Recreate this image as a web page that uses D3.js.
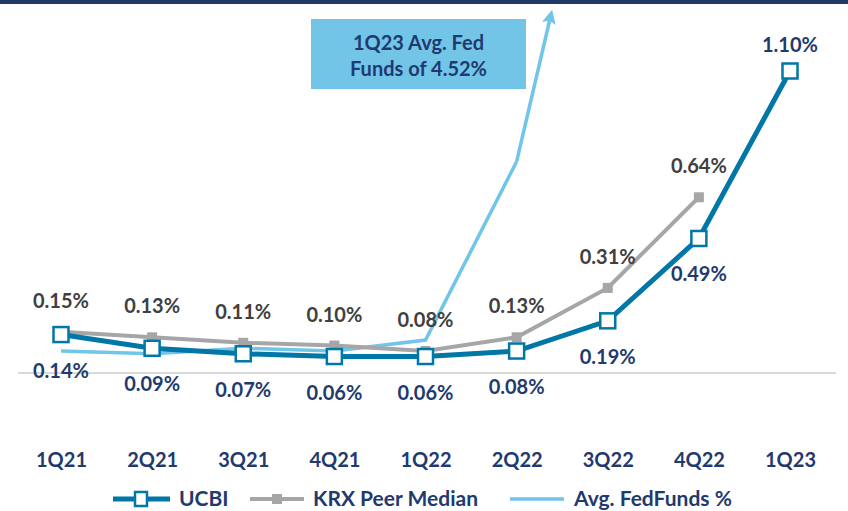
<!DOCTYPE html>
<html>
<head>
<meta charset="utf-8">
<script src="https://cdn.jsdelivr.net/npm/d3@7"></script>
<style>
  body { margin: 0; background: #fff; }
  text { font-family: Lato, "Open Sans", sans-serif; font-weight: 700; }
</style>
</head>
<body>
<svg id="chart" width="848" height="511"></svg>
<script>
// data
var quarters = ['1Q21','2Q21','3Q21','4Q21','1Q22','2Q22','3Q22','4Q22','1Q23'];
var ucbi = [0.14, 0.09, 0.07, 0.06, 0.06, 0.08, 0.19, 0.49, 1.10];
var krx = [0.15, 0.13, 0.11, 0.10, 0.08, 0.13, 0.31, 0.64];
var fed = [0.08, 0.07, 0.09, 0.08, 0.12, 0.77, 2.19];
var legendNames = ['UCBI', 'KRX Peer Median', 'Avg. FedFunds %'];
var calloutLines = ['1Q23 Avg. Fed', 'Funds of 4.52%'];

var navy = '#1F3A6E', blue = '#0077A6', gray = '#A6A6A8', light = '#71C5E8', darkText = '#404040';

var svg = d3.select('#chart');

var x = d3.scalePoint().domain(quarters).range([61, 790]);
var y = d3.scaleLinear().domain([0, 1.1]).range([373, 71]);

// top bar
svg.append('rect').attr('x', 0).attr('y', 0).attr('width', 848).attr('height', 4).attr('fill', '#1F3864');

// zero line
svg.append('line')
  .attr('x1', 18).attr('x2', 836)
  .attr('y1', y(0)).attr('y2', y(0))
  .attr('stroke', '#D9D9D9').attr('stroke-width', 2);

// x axis labels
var xAxis = d3.axisBottom(x).tickSize(0).tickPadding(0);
var gx = svg.append('g').attr('transform', 'translate(0,453)').call(xAxis);
gx.select('.domain').remove();
gx.selectAll('text').attr('fill', navy).style('font-size', '20px').attr('dy', '0.35em').attr('y', 7);

var line = d3.line().x(function(d, i){ return x(quarters[i]); }).y(function(d){ return y(d); });

// fed funds line, clipped at the top with an arrow
svg.append('defs').append('marker')
  .attr('id', 'arrow')
  .attr('viewBox', '0 0 10 10')
  .attr('refX', 4).attr('refY', 5)
  .attr('markerWidth', 5.5).attr('markerHeight', 4)
  .attr('orient', 'auto')
  .append('path').attr('d', 'M0,0 L10,5 L0,10 L2,5 Z').attr('fill', light);

var fedShown = fed.slice(0, 6);
svg.append('path')
  .datum(fedShown)
  .attr('d', line)
  .attr('fill', 'none').attr('stroke', light).attr('stroke-width', 3.5);

// arrow segment heading toward 3Q22 value, stops near the top
var x0 = x(quarters[5]), y0 = y(fed[5]), x1 = x(quarters[6]), y1 = y(fed[6]);
var yEnd = 18;
var t = (y0 - yEnd) / (y0 - y1);
svg.append('line')
  .attr('x1', x0).attr('y1', y0)
  .attr('x2', x0 + (x1 - x0) * t).attr('y2', yEnd)
  .attr('stroke', light).attr('stroke-width', 3.5)
  .attr('marker-end', 'url(#arrow)');

// KRX peer median
svg.append('path')
  .datum(krx)
  .attr('d', line)
  .attr('fill', 'none').attr('stroke', gray).attr('stroke-width', 4);
svg.selectAll('.krx-pt')
  .data(krx).enter().append('rect')
  .attr('class', 'krx-pt')
  .attr('x', function(d, i){ return x(quarters[i]) - 5; })
  .attr('y', function(d){ return y(d) - 5; })
  .attr('width', 10).attr('height', 10)
  .attr('fill', gray);

// UCBI
svg.append('path')
  .datum(ucbi)
  .attr('d', line)
  .attr('fill', 'none').attr('stroke', blue).attr('stroke-width', 5);
svg.selectAll('.ucbi-pt')
  .data(ucbi).enter().append('rect')
  .attr('class', 'ucbi-pt')
  .attr('x', function(d, i){ return x(quarters[i]) - 7.5; })
  .attr('y', function(d){ return y(d) - 7.5; })
  .attr('width', 15).attr('height', 15)
  .attr('fill', '#fff').attr('stroke', blue).attr('stroke-width', 2.5);

// labels
svg.selectAll('.krx-lbl')
  .data(krx).enter().append('text')
  .attr('class', 'krx-lbl')
  .attr('x', function(d, i){ return x(quarters[i]); })
  .attr('y', function(d){ return y(d) - 31; })
  .attr('text-anchor', 'middle').attr('dy', '0.35em')
  .attr('fill', darkText).style('font-size', '20px')
  .text(function(d){ return d.toFixed(2) + '%'; });

svg.selectAll('.ucbi-lbl')
  .data(ucbi).enter().append('text')
  .attr('class', 'ucbi-lbl')
  .attr('x', function(d, i){ return x(quarters[i]); })
  .attr('y', function(d, i){ return i == ucbi.length - 1 ? y(d) - 26 : y(d) + 36; })
  .attr('text-anchor', 'middle').attr('dy', '0.35em')
  .attr('fill', navy).style('font-size', '20px')
  .text(function(d){ return d.toFixed(2) + '%'; });

// callout box
svg.append('rect')
  .attr('x', 311).attr('y', 19).attr('width', 215).attr('height', 70)
  .attr('fill', '#73C5E8');
svg.selectAll('.callout')
  .data(calloutLines).enter().append('text')
  .attr('x', 418.5)
  .attr('y', function(d, i){ return 43 + i * 26; })
  .attr('text-anchor', 'middle').attr('dy', '0.35em')
  .attr('fill', navy).style('font-size', '20px')
  .text(function(d){ return d; });

// legend
var lg = svg.append('g').attr('transform', 'translate(0,499)');
var legendX = [113, 250, 510];
var legendTextX = [179, 313, 574];
lg.append('line').attr('x1', legendX[0]).attr('x2', legendX[0] + 57).attr('stroke', blue).attr('stroke-width', 5);
lg.append('rect').attr('x', legendX[0] + 22).attr('y', -7).attr('width', 12).attr('height', 14)
  .attr('fill', '#fff').attr('stroke', blue).attr('stroke-width', 2.5);
lg.append('line').attr('x1', legendX[1]).attr('x2', legendX[1] + 54).attr('stroke', gray).attr('stroke-width', 4);
lg.append('rect').attr('x', legendX[1] + 22).attr('y', -5).attr('width', 10).attr('height', 10).attr('fill', gray);
lg.append('line').attr('x1', legendX[2]).attr('x2', legendX[2] + 54).attr('stroke', light).attr('stroke-width', 3.5);
lg.selectAll('.lg-text')
  .data(legendNames).enter().append('text')
  .attr('x', function(d, i){ return legendTextX[i]; })
  .attr('y', 0).attr('dy', '0.35em')
  .attr('fill', navy).style('font-size', '21px')
  .text(function(d){ return d; });
</script>
</body>
</html>
